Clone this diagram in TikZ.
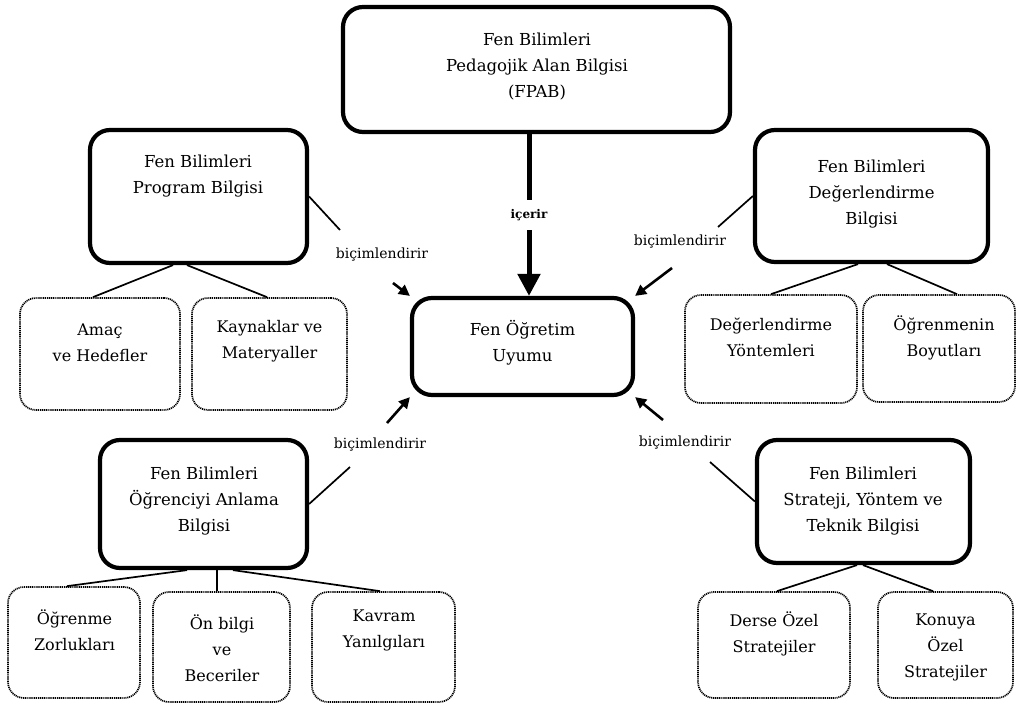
\documentclass[tikz,border=0pt]{standalone}
\usepackage{fontspec}
\setmainfont{DejaVu Serif}
\newfontfamily\boxfont{DejaVu Serif}
\usetikzlibrary{arrows.meta,calc}
\begin{document}
\begin{tikzpicture}[x=1pt,y=-1pt,
  mainbox/.style={draw, line width=4.2pt, rounded corners=20pt, inner sep=0pt},
  subbox/.style={draw, line width=1.7pt, dash pattern=on 1.1pt off 0.8pt, rounded corners=16pt, inner sep=0pt},
  maintext/.style={align=center, font=\boxfont\fontsize{16.5}{26}\selectfont, inner sep=0pt},
  subtext/.style={align=center, font=\boxfont\fontsize{16}{26}\selectfont, inner sep=0pt},
  lab/.style={font=\boxfont\fontsize{14}{16}\selectfont, inner sep=1pt},
  conn/.style={line width=1.7pt},
  sharrow/.style={line width=2.6pt, -{Triangle[length=11pt,width=11pt]}},
  bigarrow/.style={line width=5pt, -{Triangle[length=22pt,width=22pt]}},
]
\useasboundingbox (0,0) rectangle (1017,704);
\fill[white] (0,0) rectangle (1017,704);

% main boxes
\node[mainbox, minimum width=387pt, minimum height=125pt] (fpab) at (536.5,69.5) {};
\node[mainbox, minimum width=221pt, minimum height=97pt] (center) at (522.5,346.5) {};
\node[mainbox, minimum width=217pt, minimum height=133pt] (prog) at (198.5,196.5) {};
\node[mainbox, minimum width=233pt, minimum height=132pt] (deger) at (871.5,196) {};
\node[mainbox, minimum width=207pt, minimum height=128pt] (ogr) at (203.5,504) {};
\node[mainbox, minimum width=213pt, minimum height=123pt] (strat) at (863.5,501.5) {};

% sub boxes
\node[subbox, minimum width=160pt, minimum height=112pt] (amac) at (100,354) {};
\node[subbox, minimum width=155pt, minimum height=112pt] (kaynak) at (269.5,354) {};
\node[subbox, minimum width=172pt, minimum height=108pt] (dyont) at (771,349) {};
\node[subbox, minimum width=152pt, minimum height=107pt] (boyut) at (939,348.5) {};
\node[subbox, minimum width=132pt, minimum height=111pt] (ozorluk) at (74,642.5) {};
\node[subbox, minimum width=137pt, minimum height=110pt] (onbilgi) at (221.5,647) {};
\node[subbox, minimum width=143pt, minimum height=110pt] (kavram) at (383.5,647) {};
\node[subbox, minimum width=152pt, minimum height=106pt] (derse) at (774,645) {};
\node[subbox, minimum width=135pt, minimum height=106pt] (konuya) at (945.5,645) {};

% texts
\node[maintext] (fpabT) at (537,67) {Fen Bilimleri\\Pedagojik Alan Bilgisi\\(FPAB)};
\node[maintext] (centerT) at (522.5,343) {Fen Öğretim\\Uyumu};
\node[maintext] (progT) at (198,176) {Fen Bilimleri\\Program Bilgisi};
\node[maintext] (degerT) at (871.5,194.5) {Fen Bilimleri\\Değerlendirme\\Bilgisi};
\node[maintext] (ogrT) at (204,501.5) {Fen Bilimleri\\Öğrenciyi Anlama\\Bilgisi};
\node[maintext] (stratT) at (863,501.5) {Fen Bilimleri\\Strateji, Yöntem ve\\Teknik Bilgisi};

\node[subtext] (amacT) at (100,342.5) {Amaç\\ve Hedefler};
\node[subtext] (kaynakT) at (269.5,341.5) {Kaynaklar ve\\Materyaller};
\node[subtext] (dyontT) at (771,337.5) {Değerlendirme\\Yöntemleri};
\node[subtext] (boyutT) at (944,337.5) {Öğrenmenin\\Boyutları};
\node[subtext] (ozorlukT) at (74.5,630) {Öğrenme\\Zorlukları};
\node[subtext] (onbilgiT) at (222,648) {Ön bilgi\\ve\\Beceriler};
\node[subtext] (kavramT) at (384,630) {Kavram\\Yanılgıları};
\node[subtext] (derseT) at (774,634) {Derse Özel\\Stratejiler};
\node[subtext] (konuyaT) at (945.5,647.5) {Konuya\\Özel\\Stratejiler};

% labels
\node[lab] (lab1) at (382,255) {biçimlendirir};
\node[lab] (lab2) at (680,242) {biçimlendirir};
\node[lab] (lab3) at (380,445) {biçimlendirir};
\node[lab] (lab4) at (685,443) {biçimlendirir};
\node[font=\boxfont\bfseries\fontsize{12}{14}\selectfont, inner sep=0pt, minimum height=30pt] (icerir) at (529,215) {içerir};

% free ends
\coordinate (c1) at (340,230);
\coordinate (a1) at (393,283);
\coordinate (c2) at (718,227);
\coordinate (a2) at (672,268);
\coordinate (c3) at (350,467);
\coordinate (a3) at (387,423);
\coordinate (c4) at (710,462);
\coordinate (a4) at (663,420);

% biçimlendirir connectors
\draw[conn] (prog.east) -- (c1);
\draw[sharrow] (a1) -- (center.north west);
\draw[conn] (deger.west) -- (c2);
\draw[sharrow] (a2) -- (center.north east);
\draw[conn] (ogr.east) -- (c3);
\draw[sharrow] (a3) -- (center.south west);
\draw[conn] (strat.west) -- (c4);
\draw[sharrow] (a4) -- (center.south east);

% içerir
\draw[line width=5pt] (fpab.south -| icerir.center) -- (icerir.north);
\draw[bigarrow] (icerir.south) -- (icerir.south |- center.north);

% tree connectors
\draw[conn] ([xshift=-25.5pt]prog.south) -- ([xshift=-7pt]amac.north);
\draw[conn] ([xshift=-11.5pt]prog.south) -- ([xshift=-2.5pt]kaynak.north);
\draw[conn] ([xshift=-13.5pt]deger.south) -- (dyont.north);
\draw[conn] ([xshift=15.5pt]deger.south) -- ([xshift=18pt]boyut.north);
\draw[conn] ([xshift=-16.5pt]ogr.south) -- ([xshift=-7pt]ozorluk.north);
\draw[conn] ([xshift=13.5pt]ogr.south) -- ([xshift=-4.5pt]onbilgi.north);
\draw[conn] ([xshift=29.5pt]ogr.south) -- ([xshift=-3.5pt]kavram.north);
\draw[conn] ([xshift=-6.5pt]strat.south) -- ([xshift=3pt]derse.north);
\draw[conn] ([xshift=-0.5pt]strat.south) -- ([xshift=-12.5pt]konuya.north);
\end{tikzpicture}
\end{document}
